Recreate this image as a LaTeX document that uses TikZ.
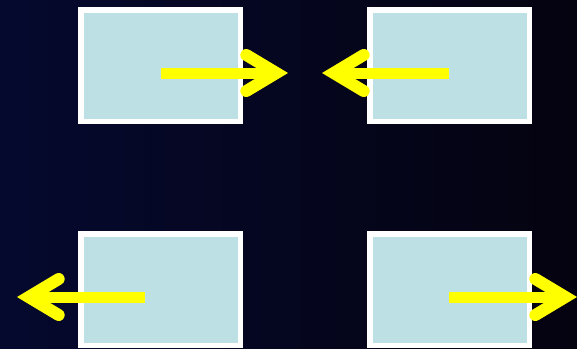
\documentclass[tikz,border=0pt]{standalone}
\usetikzlibrary{arrows.meta}
\definecolor{bgL}{RGB}{5,9,46}
\definecolor{bgM}{RGB}{1,1,30}
\definecolor{bgR}{RGB}{5,3,16}
\definecolor{boxfill}{RGB}{188,224,227}
\definecolor{arrowyellow}{RGB}{255,255,0}
\begin{document}
\begin{tikzpicture}[x=1pt,y=-1pt,
  box/.style={draw=white, fill=boxfill, line width=5.5pt,
    minimum width=159.5pt, minimum height=111.5pt, inner sep=0pt},
  yarrow/.style={draw=arrowyellow, line width=11pt,
    -{Straight Barb[length=30pt, width=36pt, line width=12pt, line cap=round, line join=miter]}}]
\shade[left color=bgL, middle color=bgM, right color=bgR] (0,0) rectangle (577,348);
\useasboundingbox (0,0) rectangle (577,348);
\node[box] (b1) at (160.5,65.5) {};
\node[box] (b2) at (449.5,65.5) {};
\node[box] (b3) at (160.5,289.5) {};
\node[box] (b4) at (449.5,289.5) {};
\coordinate (t1) at (288,73);
\coordinate (t2) at (322,73);
\coordinate (t3) at (17,297);
\coordinate (t4) at (577,297);
\draw[yarrow] ([yshift=-7.5pt]b1.center) -- (t1);
\draw[yarrow] ([yshift=-7.5pt,xshift=-0.5pt]b2.center) -- (t2);
\draw[yarrow] ([yshift=-7.5pt,xshift=-15.5pt]b3.center) -- (t3);
\draw[yarrow] ([yshift=-7.5pt,xshift=-0.5pt]b4.center) -- (t4);
\end{tikzpicture}
\end{document}
